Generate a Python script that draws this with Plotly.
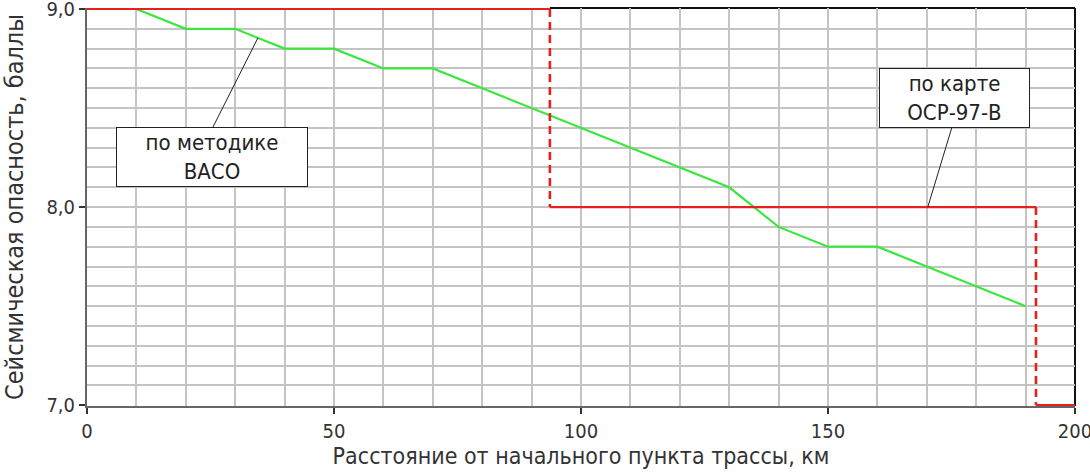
import plotly.graph_objects as go

# Data
green_x = [0, 10, 20, 30, 40, 50, 60, 70, 130, 140, 150, 160, 190]
green_y = [9.0, 9.0, 8.9, 8.9, 8.8, 8.8, 8.7, 8.7, 8.1, 7.9, 7.8, 7.8, 7.5]

red_edges = [0, 93.7, 192.1, 200]
red_levels = [9.0, 8.0, 7.0]

x_ticks = [0, 50, 100, 150, 200]
x_labels = ["0", "50", "100", "150", "200"]
y_ticks = [7.0, 8.0, 9.0]
y_labels = ["7,0", "8,0", "9,0"]

FONT = "DejaVu Sans Condensed, Liberation Sans Narrow, DejaVu Sans, sans-serif"
RED = "#e8201c"
GREEN = "#3ce63c"

fig = go.Figure()

fig.add_trace(go.Scatter(x=green_x, y=green_y, mode="lines", line=dict(color=GREEN, width=2.2),
                         hoverinfo="skip", showlegend=False, cliponaxis=False))

# red solid horizontal segments
rx, ry = [], []
for i, lvl in enumerate(red_levels):
    rx += [red_edges[i], red_edges[i + 1], None]
    ry += [lvl, lvl, None]
fig.add_trace(go.Scatter(x=rx, y=ry, mode="lines", line=dict(color=RED, width=2.2),
                         hoverinfo="skip", showlegend=False, cliponaxis=False))
# red dashed vertical steps
dx, dy = [], []
for i in range(1, len(red_levels)):
    dx += [red_edges[i], red_edges[i], None]
    dy += [red_levels[i - 1], red_levels[i], None]
fig.add_trace(go.Scatter(x=dx, y=dy, mode="lines", line=dict(color=RED, width=2.6, dash="8px,5px"),
                         hoverinfo="skip", showlegend=False, cliponaxis=False))

# frame: top (where not covered by red) and right borders (black)
fig.add_shape(type="line", xref="x", yref="paper", x0=red_edges[1], y0=1, x1=200, y1=1,
              line=dict(color="#111", width=2), layer="below")
fig.add_shape(type="line", xref="paper", yref="paper", x0=1, y0=0, x1=1, y1=1,
              line=dict(color="#111", width=2), layer="below")

# leader lines
fig.add_shape(type="line", x0=25.5, y0=8.404, x1=34.6, y1=8.854,
              line=dict(color="#222", width=1), layer="above")
fig.add_shape(type="line", x0=175.1, y0=8.404, x1=170.2, y1=8.0,
              line=dict(color="#222", width=1), layer="above")

fig.add_annotation(x=25.3, y=8.253, text="по методике<br>ВАСО", showarrow=False,
                   font=dict(family=FONT, size=22, color="#222"),
                   bgcolor="white", bordercolor="#222", borderwidth=1,
                   width=188, height=56, align="center")
fig.add_annotation(x=175.7, y=8.553, text="по карте<br>ОСР-97-В", showarrow=False,
                   font=dict(family=FONT, size=22, color="#222"),
                   bgcolor="white", bordercolor="#222", borderwidth=1,
                   width=147, height=56, align="center")

fig.update_layout(
    width=1090, height=475,
    margin=dict(l=87, r=15, t=8, b=69),
    plot_bgcolor="white", paper_bgcolor="white",
    font=dict(family=FONT, size=20, color="#333"),
    xaxis=dict(range=[0, 200], tickvals=x_ticks, ticktext=x_labels,
               showgrid=True, gridcolor="#c4c4c4", gridwidth=1.5,
               minor=dict(dtick=10, showgrid=True, gridcolor="#c4c4c4", gridwidth=1.5),
               showline=True, linecolor="#666", linewidth=2, mirror=False,
               ticks="outside", ticklen=6, tickcolor="#333", tickwidth=1.5,
               zeroline=False, layer="below traces", ticklabeloverflow="allow",
               automargin=False,
               title=dict(text="Расстояние от начального пункта трассы, км",
                          font=dict(family=FONT, size=23, color="#333"), standoff=6)),
    yaxis=dict(range=[6.996, 9.005], tickvals=y_ticks, ticktext=y_labels,
               showgrid=True, gridcolor="#c4c4c4", gridwidth=1.5,
               minor=dict(dtick=0.1, showgrid=True, gridcolor="#c4c4c4", gridwidth=1.5),
               showline=True, linecolor="#666", linewidth=2, mirror=False,
               ticks="outside", ticklen=6, tickcolor="#333", tickwidth=1.5,
               zeroline=False, layer="below traces", ticklabeloverflow="allow",
               automargin=False,
               title=dict(text="Сейсмическая опасность, баллы",
                          font=dict(family=FONT, size=25, color="#333"), standoff=16)),
)

fig.write_html("out.html", post_script="document.body.style.margin='0';",
               config={"displayModeBar": False})
